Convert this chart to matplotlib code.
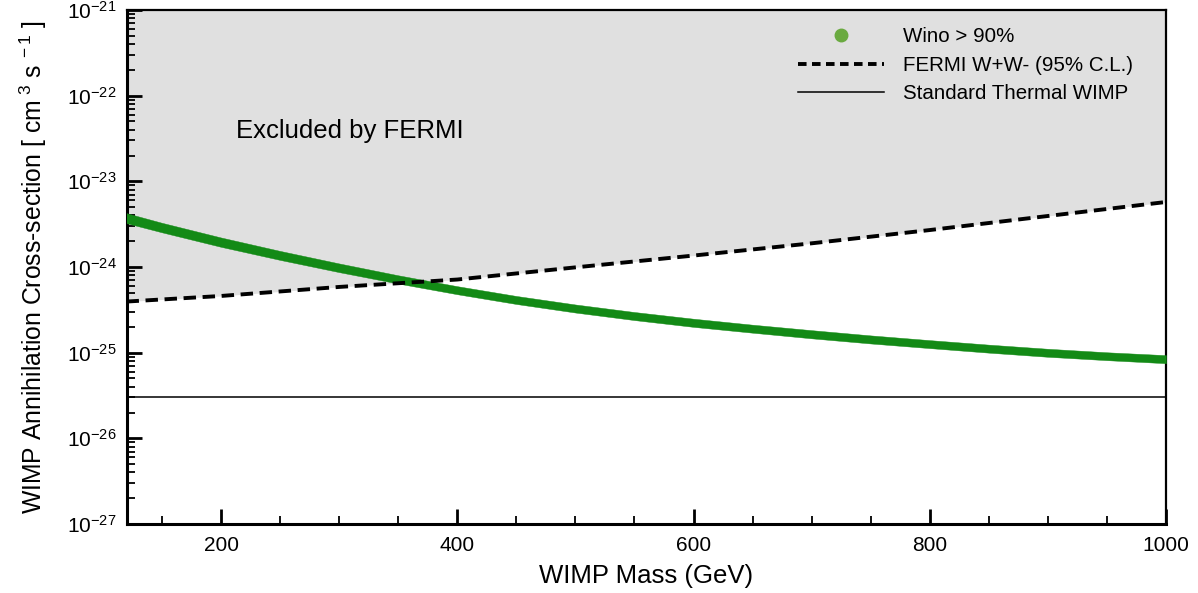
"""Wino annihilation cross-section versus FERMI W+W- limit."""

import numpy as np
import matplotlib.pyplot as plt
from matplotlib.lines import Line2D
from matplotlib.ticker import FixedLocator, LogLocator, NullFormatter

plt.rcParams["font.family"] = ["Liberation Sans", "DejaVu Sans"]
plt.rcParams["mathtext.fontset"] = "custom"
plt.rcParams["mathtext.rm"] = "Liberation Sans"
plt.rcParams["mathtext.it"] = "Liberation Sans"

# Wino band (>90% wino), upper and lower edge [cm^3 s^-1]
wino_mass = [120, 150, 200, 250, 300, 350, 400, 450, 500, 550,
             600, 650, 700, 750, 800, 850, 900, 950, 1000]
wino_upper = [4.25e-24, 3.28e-24, 2.21e-24, 1.54e-24, 1.10e-24, 8.00e-25, 5.97e-25,
              4.59e-25, 3.65e-25, 2.98e-25, 2.49e-25, 2.12e-25, 1.83e-25, 1.59e-25,
              1.40e-25, 1.24e-25, 1.11e-25, 1.01e-25, 9.35e-26]
wino_lower = [3.25e-24, 2.54e-24, 1.72e-24, 1.21e-24, 8.71e-25, 6.41e-25, 4.81e-25,
              3.70e-25, 2.94e-25, 2.40e-25, 2.00e-25, 1.71e-25, 1.47e-25, 1.28e-25,
              1.13e-25, 1.00e-25, 8.95e-26, 8.17e-26, 7.53e-26]

# FERMI W+W- upper limit (95% C.L.)
fermi_mass = [120, 200, 300, 400, 500, 600, 700, 800, 900, 1000]
fermi_limit = [3.95e-25, 4.59e-25, 5.85e-25, 7.14e-25, 9.9e-25, 1.36e-24,
               1.89e-24, 2.70e-24, 3.94e-24, 5.74e-24]

thermal_xsec = 3.0e-26

x_min, x_max = 120, 1000
y_min, y_max = 1e-27, 1e-21

fig = plt.figure(figsize=(11.98, 5.93), dpi=100)
ax = fig.add_axes([0.1056, 0.1164, 0.8677, 0.8667])

ax.set_yscale("log")
ax.set_xlim(x_min, x_max)
ax.set_ylim(y_min, y_max)

# excluded region above the FERMI limit
ax.fill_between(fermi_mass, fermi_limit, y_max, color="#e0e0e0", lw=0, zorder=1)

ax.fill_between(wino_mass, wino_lower, wino_upper, color="#138a16", lw=0.3,
                edgecolor="#138a16", zorder=3)
ax.plot(fermi_mass, fermi_limit, color="black", lw=2.8, dashes=(3.2, 1.7), zorder=4)
ax.axhline(thermal_xsec, color="black", lw=1.1, zorder=2)

ax.text(213, 3.9e-23, "Excluded by FERMI", fontsize=18.5, ha="left", va="center")

# ticks
ax.xaxis.set_major_locator(FixedLocator([200, 400, 600, 800, 1000]))
ax.xaxis.set_minor_locator(FixedLocator(np.arange(150, 1000, 50)))
ax.yaxis.set_minor_locator(LogLocator(base=10, subs=np.arange(2, 10), numticks=20))
ax.yaxis.set_minor_formatter(NullFormatter())
ax.set_yticks([10.0 ** e for e in range(-27, -20)])
ax.set_yticklabels([r"$10^{%d}$" % e for e in range(-27, -20)])

ax.tick_params(which="both", direction="in", top=False, right=False, labelsize=15)
ax.tick_params(axis="x", which="major", length=11, width=2, pad=9)
ax.tick_params(axis="x", which="minor", length=6, width=1.3)
ax.tick_params(axis="y", which="major", length=11, width=2, pad=7)
ax.tick_params(axis="y", which="minor", length=6, width=1.3)

for side in ["left", "bottom"]:
    ax.spines[side].set_linewidth(2.2)
for side in ["top", "right"]:
    ax.spines[side].set_linewidth(1.6)

ax.set_xlabel("WIMP Mass (GeV)", fontsize=18.5, labelpad=6)
ax.set_ylabel(r"WIMP Annihilation Cross-section [ cm$^{\ 3}$ s$^{\ -1}$ ]",
              fontsize=17.8, labelpad=13)

handles = [
    Line2D([], [], ls="none", marker="o", ms=9, color="#6aaa40", mec="#6aaa40"),
    Line2D([], [], color="black", lw=2.8, dashes=(2.2, 1.4)),
    Line2D([], [], color="black", lw=1.1),
]
labels = ["Wino > 90%", "FERMI W+W- (95% C.L.)", "Standard Thermal WIMP"]
ax.legend(handles, labels, loc="upper left", bbox_to_anchor=(0.646, 0.966),
          frameon=False, fontsize=14.8, handlelength=4.2, handletextpad=0.9,
          labelspacing=0.45, borderpad=0, borderaxespad=0)

fig.savefig("out.png", dpi=100)
